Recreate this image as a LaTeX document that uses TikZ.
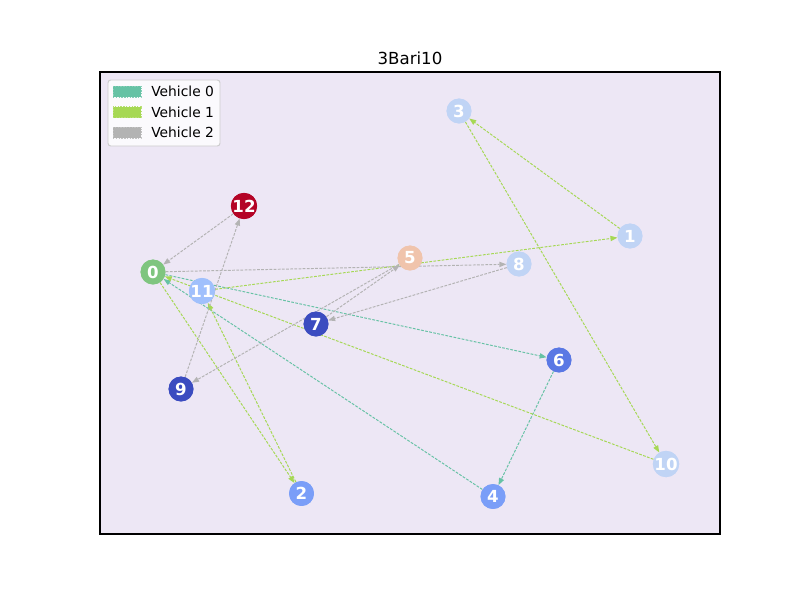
\documentclass[tikz,border=0pt]{standalone}
\usepackage{fontspec}
\setmainfont{DejaVu Sans}
\usetikzlibrary{arrows.meta}
\definecolor{axbg}{RGB}{237,231,245}
\definecolor{vzero}{HTML}{66C2A5}
\definecolor{vone}{HTML}{A6D854}
\definecolor{vtwo}{HTML}{B3B3B3}
\definecolor{cgreen}{RGB}{127,197,127}
\definecolor{cred}{HTML}{B40426}
\definecolor{cpeach}{RGB}{240,196,172}
\definecolor{clight}{RGB}{192,212,245}
\definecolor{cmid}{RGB}{160,192,252}
\definecolor{cblue}{RGB}{122,158,248}
\definecolor{cdeep}{RGB}{90,120,228}
\definecolor{cdark}{RGB}{59,76,192}
\tikzset{
  cust/.style={circle, minimum size=18pt, inner sep=0pt, fill=#1, text=white, font=\bfseries\fontsize{12}{12}\selectfont},
  route/.style={draw=#1, line width=0.7pt, dash pattern=on 2pt off 1pt, -{Stealth[length=5pt,width=4pt,fill=#1,inset=0pt,line width=0pt]}},
  legpatch/.style={fill=#1, draw=#1!80!white, line width=0.5pt, dash pattern=on 1pt off 1pt},
  legtext/.style={anchor=west, font=\fontsize{10}{10}\selectfont, inner sep=0pt},
}
\begin{document}
\begin{tikzpicture}[x=0.7227pt, y=-0.7227pt]
\useasboundingbox (0,0) rectangle (800,600);
\fill[white] (0,0) rectangle (800,600);
\fill[axbg] (100,72) rectangle (720,534);
\node[font=\fontsize{12}{12}\selectfont, anchor=base] (title) at (410,64) {3Bari10};

% nodes
\node[cust=cgreen] (n0) at (153,272) {0};
\node[cust=clight] (n1) at (630,236) {1};
\node[cust=cblue] (n2) at (301.5,493.5) {2};
\node[cust=clight] (n3) at (459,111) {3};
\node[cust=cblue] (n4) at (493,496.5) {4};
\node[cust=cpeach] (n5) at (410,258) {5};
\node[cust=cdeep] (n6) at (559,360) {6};
\node[cust=cdark] (n7) at (316,324) {7};
\node[cust=clight] (n8) at (519,264) {8};
\node[cust=cdark] (n9) at (181,389) {9};
\node[cust=clight] (n10) at (666,464) {10};
\node[cust=cmid] (n11) at (202,291) {11};
\node[cust=cred] (n12) at (244,206) {12};

% vehicle 0
\draw[route=vzero] (n0) -- (n6);
\draw[route=vzero] (n6) -- (n4);
\draw[route=vzero] (n4) -- (n0);
% vehicle 1
\draw[route=vone] (n0) -- (n2);
\draw[route=vone] (n2) -- (n11);
\draw[route=vone] (n11) -- (n1);
\draw[route=vone] (n1) -- (n3);
\draw[route=vone] (n3) -- (n10);
\draw[route=vone] (n10) -- (n0);
% vehicle 2
\draw[route=vtwo] (n0) -- (n8);
\draw[route=vtwo] (n8) -- (n7);
\draw[route=vtwo] (n7) -- (n5);
\draw[route=vtwo] (n5) -- (n9);
\draw[route=vtwo] (n9) -- (n12);
\draw[route=vtwo] (n12) -- (n0);

% redraw nodes on top
\foreach \n/\c/\t in {n0/cgreen/0,n1/clight/1,n2/cblue/2,n3/clight/3,n4/cblue/4,n5/cpeach/5,n6/cdeep/6,n7/cdark/7,n8/clight/8,n9/cdark/9,n10/clight/10,n11/cmid/11,n12/cred/12}
  \node[cust=\c] at (\n) {\t};

\draw[black, line width=0.8pt] (100,72) rectangle (720,534);

% legend
\node[draw={rgb,255:red,204;green,204;blue,204}, fill=white, fill opacity=0.8, draw opacity=1, rounded corners=2pt, line width=0.7pt, minimum width=112*0.7227pt, minimum height=66*0.7227pt, inner sep=0pt] (legend) at (164,113) {};
\draw[legpatch=vzero] (113,86) rectangle (141,97);
\draw[legpatch=vone] (113,106.5) rectangle (141,117.5);
\draw[legpatch=vtwo] (113,127) rectangle (141,138);
\node[legtext] (l0) at (151,91.5) {Vehicle 0};
\node[legtext] (l1) at (151,112) {Vehicle 1};
\node[legtext] (l2) at (151,132.5) {Vehicle 2};
\end{tikzpicture}
\end{document}
